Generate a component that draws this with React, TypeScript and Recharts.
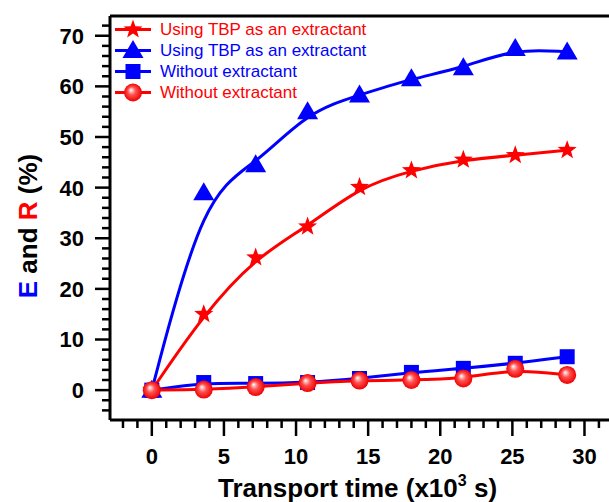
import React from 'react';
import { ComposedChart, Line, XAxis, YAxis, Legend, ReferenceLine, Label } from 'recharts';

// transport time in x10^3 s (one point per hour)
const times = [0, 3.6, 7.2, 10.8, 14.4, 18, 21.6, 25.2, 28.8];
// values, in %
const tbpR = [0, 15.0, 26.2, 32.3, 40.1, 43.4, 45.5, 46.4, 47.4];
const tbpE = [0, 39.0, 44.5, 55.0, 58.3, 61.5, 63.7, 67.5, 66.8];
const noExtE = [0, 1.5, 1.3, 1.5, 2.3, 3.5, 4.3, 5.3, 6.6];
const noExtR = [0, 0.1, 0.6, 1.4, 1.9, 2.0, 2.3, 4.2, 3.0];

const xTicks = [-2, -1, 0, 1, 2, 3, 4, 5, 6, 7, 8, 9, 10, 11, 12, 13, 14, 15, 16, 17, 18, 19, 20, 21, 22, 23, 24, 25, 26, 27, 28, 29, 30, 31];
const yTicks = [-4, -2, 0, 2, 4, 6, 8, 10, 12, 14, 16, 18, 20, 22, 24, 26, 28, 30, 32, 34, 36, 38, 40, 42, 44, 46, 48, 50, 52, 54, 56, 58, 60, 62, 64, 66, 68, 70, 72];
const xDomain = [-2.9, 31.7];
const yDomain = [-5.9, 73.9];

const RED = '#ff0000';
const BLUE = '#0000ff';
const FONT = '"Liberation Sans", Arial, Helvetica, sans-serif';

const data = times.map((t, i) => ({
  t,
  tbpR: tbpR[i],
  tbpE: tbpE[i],
  noExtE: noExtE[i],
  noExtR: noExtR[i],
}));

// marker shapes
const Star = ({ cx, cy }: any) => {
  const pts: string[] = [];
  for (let k = 0; k < 10; k++) {
    const r = k % 2 === 0 ? 10 : 4.1;
    const a = -Math.PI / 2 + (k * Math.PI) / 5;
    pts.push(`${cx + r * Math.cos(a)},${cy + r * Math.sin(a)}`);
  }
  return <polygon points={pts.join(' ')} fill={RED} />;
};

const Triangle = ({ cx, cy }: any) => (
  <polygon points={`${cx},${cy - 10.5} ${cx - 10.5},${cy + 7.5} ${cx + 10.5},${cy + 7.5}`} fill={BLUE} />
);

const Square = ({ cx, cy }: any) => <rect x={cx - 7.5} y={cy - 7.5} width={15} height={15} fill={BLUE} />;

const Sphere = ({ cx, cy, id }: any) => (
  <g>
    <defs>
      <radialGradient id={id} cx="50%" cy="50%" r="50%" fx="38%" fy="35%">
        <stop offset="0%" stopColor="#ffffff" />
        <stop offset="45%" stopColor="#ff5050" />
        <stop offset="100%" stopColor="#ee0000" />
      </radialGradient>
    </defs>
    <circle cx={cx} cy={cy} r={9} fill={`url(#${id})`} />
  </g>
);

const markers: Record<string, (p: any) => React.ReactElement> = {
  tbpR: (p) => <Star {...p} />,
  tbpE: (p) => <Triangle {...p} />,
  noExtE: (p) => <Square {...p} />,
  noExtR: (p) => <Sphere {...p} />,
};

const YTick = (props: any) => {
  const { x, y, payload } = props;
  const major = payload.value % 10 === 0;
  return (
    <g>
      <line x1={x} x2={x - (major ? 15 : 8)} y1={y} y2={y} stroke="#000" strokeWidth={2.5} />
      {major && (
        <text x={x - 26} y={y} dy="0.36em" textAnchor="end" fontSize={22} fontWeight="bold" fill="#000" fontFamily={FONT}>
          {payload.value}
        </text>
      )}
    </g>
  );
};

const XTick = (props: any) => {
  const { x, y, payload } = props;
  const major = payload.value % 5 === 0;
  return (
    <g>
      <line x1={x} x2={x} y1={y} y2={y + (major ? 16 : 8)} stroke="#000" strokeWidth={2.5} />
      {major && (
        <text x={x} y={y + 44} textAnchor="middle" fontSize={22} fontWeight="bold" fill="#000" fontFamily={FONT}>
          {payload.value}
        </text>
      )}
    </g>
  );
};

const renderLegend = (props: any) => (
  <div style={{ fontFamily: FONT, fontSize: 17, lineHeight: '21px' }}>
    {(props.payload || []).map((entry: any, i: number) => (
      <div key={i} style={{ display: 'flex', alignItems: 'center', height: 21 }}>
        <svg width={44} height={21}>
          <line x1={2} x2={38} y1={10.5} y2={10.5} stroke={entry.color} strokeWidth={3} />
          {markers[entry.dataKey]({ cx: 20, cy: 10.5, id: `leg-sphere-${i}` })}
        </svg>
        <span style={{ color: entry.color, marginLeft: 3, whiteSpace: 'nowrap' }}>{entry.value}</span>
      </div>
    ))}
  </div>
);

const yTitle = (props: any) => {
  const { viewBox } = props;
  const cx = 28;
  const cy = viewBox.y + viewBox.height / 2 + 8;
  return (
    <text x={cx} y={cy} transform={`rotate(-90, ${cx}, ${cy})`} textAnchor="middle" dy="0.36em" fontSize={26} fontWeight="bold" fontFamily={FONT} fill="#000">
      <tspan fill={BLUE}>E</tspan>
      <tspan> and </tspan>
      <tspan fill={RED}>R</tspan>
      <tspan> (%)</tspan>
    </text>
  );
};

const xTitle = (props: any) => {
  const { viewBox } = props;
  const cx = viewBox.x + viewBox.width / 2 - 2;
  const cy = viewBox.y + 77;
  return (
    <text x={cx} y={cy} textAnchor="middle" fontSize={26} fontWeight="bold" fontFamily={FONT} fill="#000">
      <tspan>Transport time (x10</tspan>
      <tspan dy={-11} fontSize={16}>3</tspan>
      <tspan dy={11}> s)</tspan>
    </text>
  );
};

const App = () => (
  <div style={{ position: 'absolute', left: 0, top: 0, background: '#fff' }}>
    <ComposedChart width={609} height={502} data={data} margin={{ top: 16, right: 0, bottom: 0, left: 0 }}>
      <XAxis
        dataKey="t"
        type="number"
        domain={xDomain}
        ticks={xTicks}
        interval={0}
        allowDataOverflow
        height={82}
        tickLine={false}
        tickSize={0}
        tickMargin={0}
        tick={<XTick />}
        axisLine={{ stroke: '#000', strokeWidth: 3 }}
      >
        <Label content={xTitle} />
      </XAxis>
      <YAxis
        type="number"
        domain={yDomain}
        ticks={yTicks}
        interval={0}
        allowDataOverflow
        width={110}
        tickLine={false}
        tickSize={0}
        tickMargin={0}
        tick={<YTick />}
        axisLine={{ stroke: '#000', strokeWidth: 3 }}
      >
        <Label content={yTitle} />
      </YAxis>
      <ReferenceLine y={yDomain[1]} stroke="#000" strokeWidth={3} />
      <Legend
        layout="vertical"
        align="center"
        verticalAlign="middle"
        wrapperStyle={{ top: 18.5, left: 113, width: 'auto' }}
        content={renderLegend}
      />
      <Line
        type="basis"
        dataKey="tbpR"
        name="Using TBP as an extractant"
        stroke={RED}
        strokeWidth={3}
        isAnimationActive={false}
        dot={(p: any) => <Star key={`s${p.index}`} cx={p.cx} cy={p.cy} />}
        activeDot={false}
      />
      <Line
        type="basis"
        dataKey="tbpE"
        name="Using TBP as an extractant"
        stroke={BLUE}
        strokeWidth={3}
        isAnimationActive={false}
        dot={(p: any) => <Triangle key={`t${p.index}`} cx={p.cx} cy={p.cy} />}
        activeDot={false}
      />
      <Line
        type="basis"
        dataKey="noExtE"
        name="Without extractant"
        stroke={BLUE}
        strokeWidth={3}
        isAnimationActive={false}
        dot={(p: any) => <Square key={`q${p.index}`} cx={p.cx} cy={p.cy} />}
        activeDot={false}
      />
      <Line
        type="basis"
        dataKey="noExtR"
        name="Without extractant"
        stroke={RED}
        strokeWidth={3}
        isAnimationActive={false}
        dot={(p: any) => <Sphere key={`c${p.index}`} cx={p.cx} cy={p.cy} id={`sphere-${p.index}`} />}
        activeDot={false}
      />
    </ComposedChart>
  </div>
);

export default App;
